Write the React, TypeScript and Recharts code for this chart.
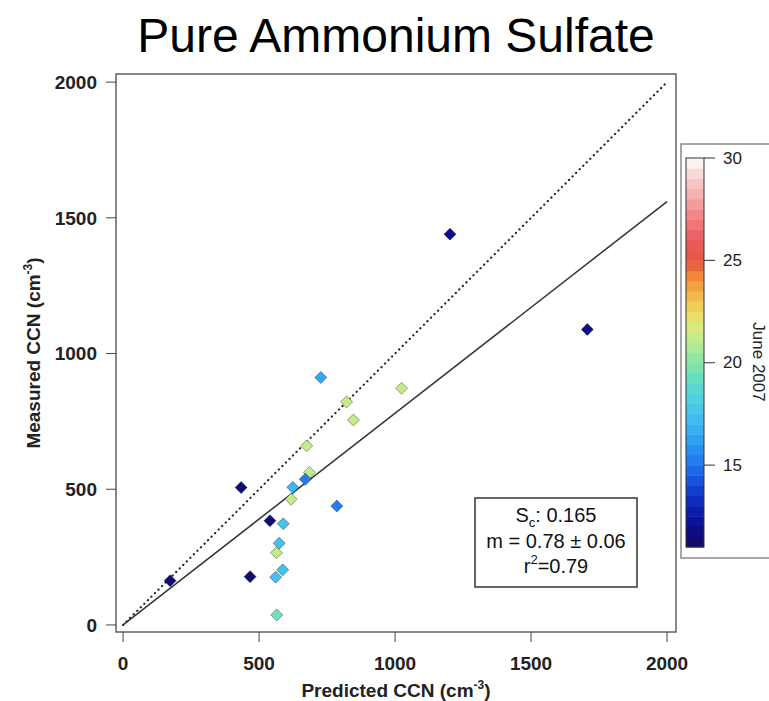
import { ScatterChart, Scatter, XAxis, YAxis, ReferenceLine, ReferenceArea, Label } from 'recharts'

// predicted vs measured CCN (cm^-3), colour = day of June 2007
const predicted = [173, 434, 467, 540, 1202, 1707, 727, 1024, 822, 847, 675, 685, 670, 624, 618, 786, 589, 574, 564, 587, 561, 565]
const measured = [163, 506, 178, 384, 1440, 1089, 912, 872, 822, 755, 660, 562, 537, 507, 463, 438, 373, 301, 266, 203, 176, 37]
const juneDay = [11.5, 11.5, 11.5, 11.5, 12, 12, 16.5, 21.2, 21.2, 21.2, 21.2, 21.2, 15.3, 17, 21.2, 15.3, 17.5, 17.5, 21.2, 17.5, 17.5, 19.5]

const axisTicks = [0, 500, 1000, 1500, 2000]
const fitSlope = 0.78
const lineEnds = [0, 2000]

const cbValues = [11, 12, 13, 14, 15, 16, 17, 18, 19, 20, 21, 22, 23, 24, 25, 26, 27, 28, 29, 30]
const cbColors = ['#120c5c', '#0c0c8c', '#0a22b4', '#1448d8', '#2274ec', '#2a98f2', '#3cb6f2', '#4ccce6', '#5edcc8', '#86e4a8', '#b8ec90', '#e2ea72', '#f4c452', '#f4963a', '#e4563e', '#ea5a5c', '#f07e80', '#f4a6a8', '#f8cccc', '#ffffff']
const cbTicks = [15, 20, 25, 30]

const FONT = '"Liberation Sans", Arial, sans-serif'

const points = predicted.map((x, i) => ({ x, y: measured[i], day: juneDay[i] }))

function hexRgb(h: string) {
  return [1, 3, 5].map((i) => parseInt(h.slice(i, i + 2), 16))
}

function colorFor(v: number) {
  const n = cbValues.length
  if (v <= cbValues[0]) return cbColors[0]
  if (v >= cbValues[n - 1]) return cbColors[n - 1]
  let i = 0
  while (cbValues[i + 1] < v) i++
  const t = (v - cbValues[i]) / (cbValues[i + 1] - cbValues[i])
  const a = hexRgb(cbColors[i])
  const b = hexRgb(cbColors[i + 1])
  const c = a.map((ai, k) => Math.round(ai + (b[k] - ai) * t))
  return `rgb(${c[0]},${c[1]},${c[2]})`
}

function Diamond(props: any) {
  const { cx, cy, payload } = props
  const r = 6
  return (
    <polygon
      points={`${cx},${cy - r} ${cx + r},${cy} ${cx},${cy + r} ${cx - r},${cy}`}
      fill={colorFor(payload.day)}
      stroke="rgba(0,0,0,0.35)"
      strokeWidth={1}
    />
  )
}

function Colorbar() {
  const top = 158
  const bottom = 547
  const lo = 11
  const hi = 30
  const yOf = (v: number) => top + ((hi - v) / (hi - lo)) * (bottom - top)
  const bands = []
  for (let v = lo; v < hi; v += 0.5) {
    bands.push(
      <rect key={v} x={686} y={yOf(v + 0.5)} width={18} height={yOf(v) - yOf(v + 0.5) + 0.5} fill={colorFor(v + 0.25)} />
    )
  }
  return (
    <g>
      <rect x={681} y={144} width={120} height={414} fill="#fff" stroke="#8a8a8a" strokeWidth={1.5} />
      {bands}
      <rect x={686} y={top} width={18} height={bottom - top} fill="none" stroke="#333" strokeWidth={1} />
      {cbTicks.map((t) => (
        <g key={t}>
          <line x1={704} x2={715} y1={yOf(t)} y2={yOf(t)} stroke="#333" strokeWidth={1} />
          <text x={723} y={yOf(t)} dominantBaseline="central" fontSize={17} fontFamily={FONT} fill="#222">
            {t}
          </text>
        </g>
      ))}
      <text transform="translate(753,362) rotate(90)" textAnchor="middle" fontSize={17} fontFamily={FONT} fill="#222">
        June 2007
      </text>
    </g>
  )
}

function StatsBox() {
  return (
    <g fontFamily={FONT} fill="#111" fontSize={20}>
      <rect x={475} y={498} width={162} height={89} fill="#fff" stroke="#333" strokeWidth={1.5} />
      <text x={556} y={522} textAnchor="middle">
        S<tspan fontSize={13} dy={5}>c</tspan>
        <tspan dy={-5}>: 0.165</tspan>
      </text>
      <text x={556} y={548} textAnchor="middle">m = 0.78 ± 0.06</text>
      <text x={556} y={573} textAnchor="middle">
        r<tspan fontSize={13} dy={-9}>2</tspan>
        <tspan dy={9}>=0.79</tspan>
      </text>
    </g>
  )
}

export default function App() {
  return (
    <div style={{ position: 'fixed', left: 0, top: 0, width: 769, height: 701, background: '#fff', overflow: 'hidden' }}>
      <ScatterChart width={769} height={701} margin={{ top: 74, right: 93, bottom: 9, left: 46 }}>
        <XAxis
          type="number"
          dataKey="x"
          domain={[-26, 2033]}
          ticks={axisTicks}
          allowDataOverflow
          height={60}
          tickSize={10}
          tickMargin={15}
          axisLine={false}
          tickLine={{ stroke: '#444' }}
          tick={{ fontSize: 19, fontWeight: 'bold', fill: '#222', fontFamily: FONT }}
        >
          <Label
            content={() => (
              <text x={396} y={697} textAnchor="middle" fontSize={19} fontWeight="bold" fontFamily={FONT} fill="#222">
                Predicted CCN (cm<tspan fontSize={12} dy={-8}>-3</tspan>
                <tspan dy={8}>)</tspan>
              </text>
            )}
          />
        </XAxis>
        <YAxis
          type="number"
          dataKey="y"
          domain={[-26, 2030]}
          ticks={axisTicks}
          allowDataOverflow
          width={70}
          tickSize={10}
          tickMargin={9}
          axisLine={false}
          tickLine={{ stroke: '#444' }}
          tick={{ fontSize: 19, fontWeight: 'bold', fill: '#222', fontFamily: FONT }}
        >
          <Label
            content={() => (
              <text transform="translate(40,353) rotate(-90)" textAnchor="middle" fontSize={19} fontWeight="bold" fontFamily={FONT} fill="#222">
                Measured CCN (cm<tspan fontSize={12} dy={-8}>-3</tspan>
                <tspan dy={8}>)</tspan>
              </text>
            )}
          />
        </YAxis>
        <ReferenceArea x1={-26} x2={2033} y1={-26} y2={2030} fill="none" stroke="#606060" strokeWidth={1.5} ifOverflow="visible" />
        <Scatter data={points} shape={Diamond} isAnimationActive={false} />
        <ReferenceLine
          segment={[{ x: lineEnds[0], y: lineEnds[0] }, { x: lineEnds[1], y: lineEnds[1] }]}
          stroke="#222"
          strokeWidth={2.2}
          strokeDasharray="0.1 4.9"
          strokeLinecap="round"
          ifOverflow="visible"
        />
        <ReferenceLine
          segment={[{ x: lineEnds[0], y: lineEnds[0] * fitSlope }, { x: lineEnds[1], y: lineEnds[1] * fitSlope }]}
          stroke="#333"
          strokeWidth={1.5}
          ifOverflow="visible"
        />
      </ScatterChart>
      <svg width={769} height={701} style={{ position: 'absolute', left: 0, top: 0, pointerEvents: 'none' }}>
        <text x={396} y={52} textAnchor="middle" fontSize={48} fontFamily={FONT} fill="#000">
          Pure Ammonium Sulfate
        </text>
        <Colorbar />
        <StatsBox />
      </svg>
    </div>
  )
}
